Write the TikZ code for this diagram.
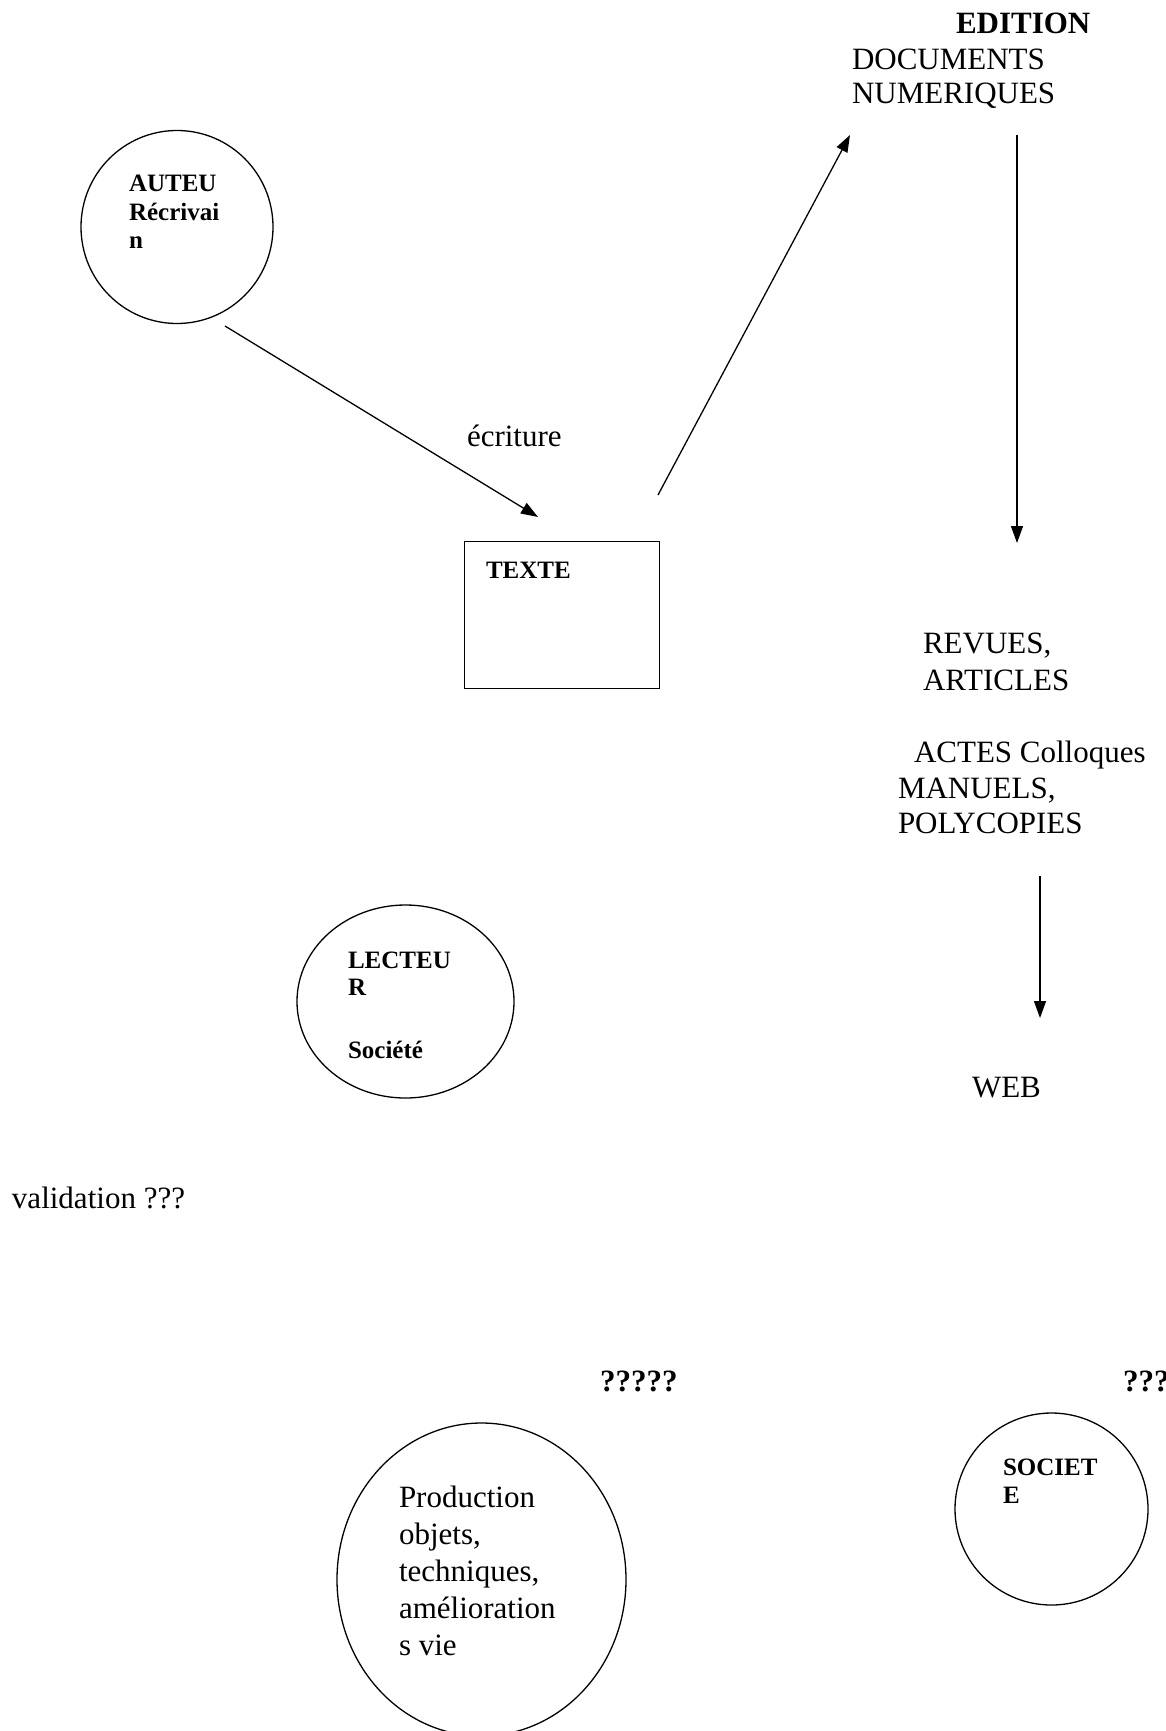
\documentclass[tikz,border=0pt]{standalone}
\usepackage{fontspec}
\setmainfont{Liberation Serif}
\usetikzlibrary{arrows.meta,shapes.geometric}
\begin{document}
\begin{tikzpicture}[x=1pt,y=-1pt,
  txt/.style={inner sep=0pt, outer sep=0pt, anchor=base west, align=flush left, text width=420pt},
  reg/.style={txt, font=\fontsize{31}{35}\selectfont},
  bld/.style={txt, font=\fontsize{25}{29}\selectfont\bfseries},
  bldbig/.style={txt, font=\fontsize{31}{35}\selectfont\bfseries},
  oval/.style={draw, ellipse, line width=1.3pt, inner sep=0pt},
  box/.style={draw, rectangle, line width=1.3pt, inner sep=0pt},
  conn/.style={line width=1.3pt, -{Triangle[length=17pt,width=12pt]}}]
\useasboundingbox (0,0) rectangle (1165,1731);

% shapes
\node[oval, minimum width=192pt, minimum height=193pt] (auteur) at (177,227) {};
\node[box, minimum width=195pt, minimum height=147pt, anchor=north west] (texte) at (464,541) {};
\node[oval, minimum width=217pt, minimum height=193pt] (lecteur) at (405.5,1001.5) {};
\node[oval, minimum width=289pt, minimum height=313pt] (production) at (481.5,1579.5) {};
\node[oval, minimum width=193pt, minimum height=192pt] (societe) at (1051.5,1509) {};

% texts
\node[bldbig] (edition) at (956,34) {EDITION};
\node[reg, font=\fontsize{31}{34}\selectfont] (docs) at (852,70) {DOCUMENTS\\NUMERIQUES};
\node[bld, font=\fontsize{25}{28.5}\selectfont\bfseries] (auteurtxt) at (129,192) {AUTEU\\Récrivai\\n};
\node[reg] (ecriture) at (467,446) {écriture};
\node[bld] (textetxt) at (486,578) {TEXTE};
\node[reg, font=\fontsize{31}{37}\selectfont] (revues) at (923,653) {REVUES,\\ARTICLES};
\node[reg] (actes) at (914,762) {ACTES Colloques};
\node[reg] (manuels) at (898,798) {MANUELS,\\POLYCOPIES};
\node[reg] (web) at (972,1097) {WEB};
\node[bld, font=\fontsize{25}{27}\selectfont\bfseries] (lecteurtxt) at (348,968) {LECTEU\\R\\[36pt]Société};
\node[reg] (validation) at (12,1208) {validation ???};
\node[bldbig] (qmid) at (600,1391) {?????};
\node[bldbig] (qright) at (1123,1391) {???};
\node[reg, font=\fontsize{31}{37}\selectfont] (prodtxt) at (399,1507) {Production\\objets,\\techniques,\\amélioration\\s vie};
\node[bld, font=\fontsize{25}{28}\selectfont\bfseries] (societetxt) at (1003,1475) {SOCIET\\E};

% connector ends
\coordinate (a1s) at (225,326);
\coordinate (a1e) at (538,517);
\coordinate (a2s) at (658,495);
\coordinate (a2e) at (850,135);
\coordinate (a3s) at (1017,135);
\coordinate (a3e) at (1017,543);
\coordinate (a4s) at (1040,876);
\coordinate (a4e) at (1040,1018);

\draw[conn] (a1s) -- (a1e);
\draw[conn] (a2s) -- (a2e);
\draw[conn] (a3s) -- (a3e);
\draw[conn] (a4s) -- (a4e);
\end{tikzpicture}
\end{document}
